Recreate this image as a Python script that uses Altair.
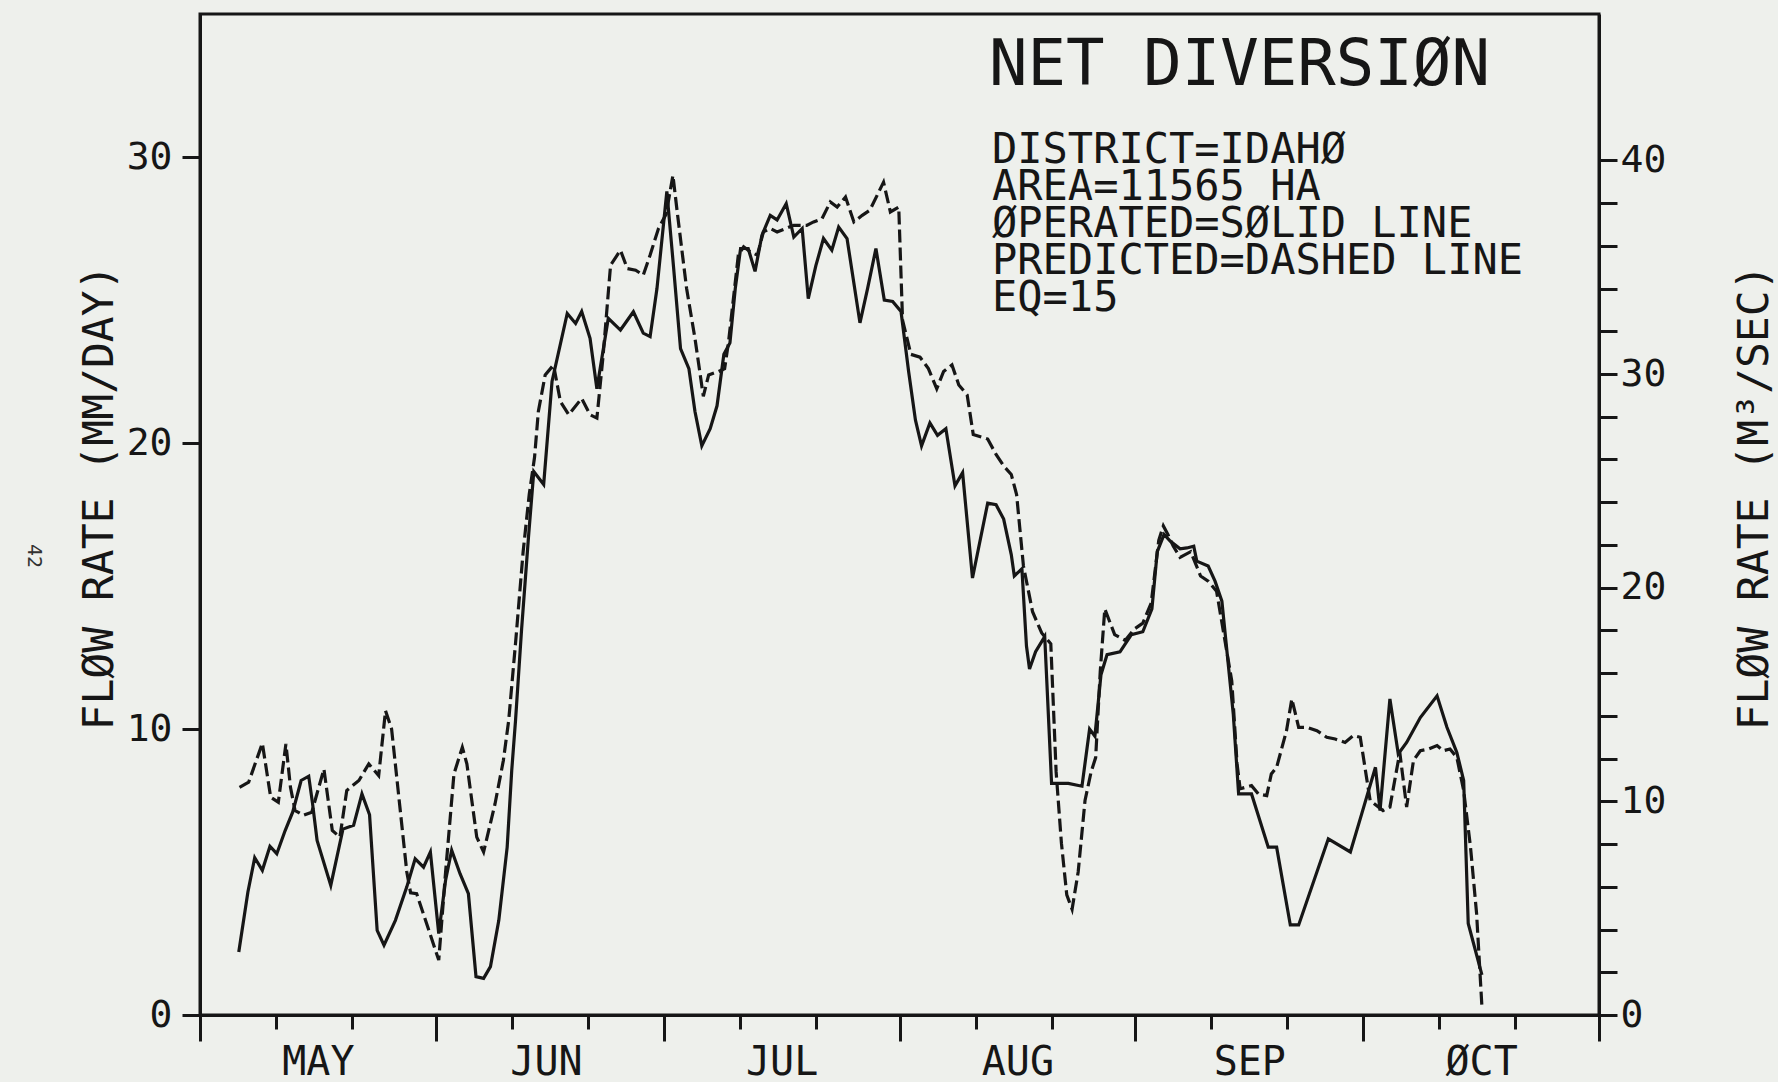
import altair as alt
import pandas as pd

# ---- data: days after 30 April (0 = 1 May), flow rate in mm/day ----
op_day = [5.1, 6.3, 7.2, 8.2, 9.2, 10.1, 11.2, 12.2, 13.3, 14.3, 14.8, 15.4, 17.2, 18.8, 20.2, 21.3, 22.3,
          23.3, 24.2, 25.7, 27.2, 28.3, 29.4, 30.3, 31.4, 32.3, 33.1, 34.2, 35.3, 36.3, 37.3, 38.2, 39.3,
          40.4, 41.0, 41.5, 42.3, 43.2, 43.9, 45.2, 46.3, 48.3, 49.4, 50.2, 51.3, 52.2, 53.7, 55.3, 57.0,
          58.3, 59.2, 60.1, 61.4, 62.3, 63.2, 64.3, 65.1, 66.0, 67.1, 68.0, 68.9, 69.7, 70.4, 71.1, 72.1,
          73.0, 73.9, 75.0, 75.9, 77.1, 78.1, 79.2, 80.0, 81.0, 82.0, 83.1, 84.0, 85.1, 86.8, 87.8, 88.9,
          90.0, 91.1, 92.2, 93.2, 94.1, 94.9, 96.0, 97.0, 98.1, 99.3, 100.3, 101.6, 103.6, 104.7,
          105.7, 106.7, 107.1, 108.1, 108.7, 109.1, 109.9, 111.1, 112.0, 114.2, 116.0, 117.0, 117.7, 118.5,
          119.3, 121.0, 122.5, 124.0, 125.2, 125.9, 126.8, 127.6, 128.9, 129.8, 130.7, 131.1, 132.6, 133.5,
          134.4, 135.9, 136.6, 138.3, 140.5, 141.6, 143.4, 144.5, 148.4, 151.3, 152.8, 154.6, 155.2, 156.5,
          157.6, 158.7, 160.5, 162.7, 164.0, 165.3, 166.2, 166.8, 168.6]
op_val = [2.2, 4.3, 5.5, 5.06, 5.9, 5.64, 6.45, 7.1, 8.2, 8.35, 7.4, 6.1, 4.53, 6.5, 6.63, 7.73, 7.0,
          2.96, 2.44, 3.31, 4.48, 5.46, 5.17, 5.7, 2.85, 4.71, 5.76, 4.94, 4.24, 1.34, 1.28, 1.69, 3.31,
          5.87, 8.55, 10.3, 13.5, 16.7, 19.0, 18.55, 22.15, 24.53, 24.18, 24.6, 23.66, 21.9, 24.36, 23.95, 24.59,
          23.84, 23.72, 25.4, 28.8, 26.1, 23.3, 22.6, 21.1, 19.9, 20.5, 21.3, 23.1, 23.5, 25.4, 26.8, 26.8,
          26.0, 27.26, 27.96, 27.8, 28.37, 27.2, 27.5, 25.05, 26.2, 27.15, 26.74, 27.55, 27.15, 24.2, 25.4, 26.8,
          25.0, 24.95, 24.6, 22.5, 20.8, 19.9, 20.7, 20.27, 20.5, 18.5, 18.96, 15.28, 17.9, 17.84,
          17.34, 16.1, 15.35, 15.6, 12.9, 12.1, 12.7, 13.23, 8.1, 8.1, 8.0, 10.0, 9.75, 11.9,
          12.6, 12.7, 13.3, 13.4, 14.2, 16.2, 16.8, 16.57, 16.3, 16.33, 16.39, 15.87, 15.7, 15.17,
          14.47, 10.52, 7.73, 7.73, 5.87, 5.87, 3.15, 3.15, 6.16, 5.7, 7.04, 8.66, 7.15, 11.05,
          9.13, 9.53, 10.4, 11.16, 10.06, 9.18, 8.2, 3.2, 1.4]

pr_day = [5.2, 6.4, 8.2, 9.3, 10.3, 11.3, 11.9, 12.5, 13.6, 14.7, 16.3, 17.4, 18.4, 19.3, 20.9, 22.2, 23.5,
          24.4, 25.2, 27.2, 27.7, 28.5, 31.4, 32.3, 33.4, 34.5, 35.1, 36.4, 37.3, 38.8, 39.9, 40.6, 41.5,
          42.5, 43.3, 44.0, 44.5, 45.4, 46.5, 47.4, 48.5, 50.2, 51.3, 52.2, 53.0, 54.0, 55.3, 56.2, 57.3,
          58.3, 59.2, 60.3, 61.3, 62.2, 62.8, 64.0, 65.1, 66.2, 66.9, 68.2, 69.0, 69.5, 70.8, 71.5, 72.4,
          73.3, 74.1, 75.0, 75.9, 78.1, 79.8, 80.7, 81.8, 82.9, 83.8, 84.9, 86.0, 87.1, 88.1, 89.9, 90.8,
          91.9, 92.4, 93.5, 94.7, 95.8, 96.9, 97.8, 98.9, 99.8, 100.9, 101.7, 103.6, 104.7, 105.7,
          106.7, 107.4, 108.3, 109.5, 110.7, 111.9, 112.6, 113.3, 114.0, 114.7, 115.5, 116.4, 117.2, 117.8,
          118.4, 119.0, 120.3, 121.7, 122.9, 124.0, 125.1, 126.1, 126.7, 127.3, 128.0, 128.9, 130.3, 131.6,
          132.6, 133.7, 135.7, 136.4, 136.8, 138.3, 139.2, 140.3, 140.9, 141.6, 142.9, 143.6, 144.5, 145.6,
          146.9, 148.2, 149.3, 150.6, 151.7, 152.6, 153.9, 155.6, 156.5, 157.8, 158.7, 159.6, 160.5, 161.6,
          162.7, 163.5, 164.4, 165.3, 166.2, 167.1, 167.9, 168.6]
pr_val = [7.96, 8.14, 9.5, 7.61, 7.44, 9.48, 7.96, 7.15, 6.98, 7.09, 8.6, 6.45, 6.22, 7.85, 8.2, 8.78, 8.37,
          10.64, 10.0, 5.0, 4.27, 4.24, 1.92, 5.0, 8.43, 9.36, 8.78, 6.22, 5.7, 7.38, 8.9, 10.3, 13.0,
          16.2, 18.2, 19.5, 21.1, 22.38, 22.73, 21.45, 20.99, 21.56, 20.99, 20.87, 23.0, 26.22, 26.74, 26.1, 26.04,
          25.87, 26.57, 27.5, 28.0, 29.36, 28.0, 25.4, 23.66, 21.63, 22.38, 22.5, 22.6, 23.5, 26.57, 26.86, 26.68,
          26.57, 27.38, 27.5, 27.38, 27.61, 27.61, 27.73, 27.84, 28.43, 28.25, 28.6, 27.73, 27.96, 28.14, 29.12, 28.08,
          28.25, 24.3, 23.1, 23.0, 22.6, 21.9, 22.5, 22.73, 22.03, 21.68, 20.3, 20.14, 19.6, 19.2,
          18.9, 18.2, 15.7, 14.1, 13.36, 12.98, 8.5, 6.0, 4.2, 3.7, 5.0, 7.5, 8.5, 9.0,
          12.0, 14.2, 13.3, 13.1, 13.5, 13.7, 14.4, 16.6, 17.1, 16.8, 16.4, 16.0, 16.2, 15.35,
          15.17, 14.82, 11.68, 8.78, 7.91, 8.02, 7.73, 7.67, 8.43, 8.66, 9.94, 11.05, 10.06, 10.06,
          9.94, 9.71, 9.65, 9.53, 9.77, 9.71, 7.5, 7.15, 7.27, 9.18, 7.27, 8.9, 9.24, 9.3,
          9.42, 9.24, 9.3, 9.01, 7.85, 5.87, 3.55, 0.3]

month_starts = [0, 31, 61, 92, 123, 153, 184]
ten_day_ticks = [10, 20, 41, 51, 71, 81, 102, 112, 133, 143, 163, 173]
month_mids = [15.5, 45.5, 76.5, 107.5, 138, 168.5]
month_names = ["MAY", "JUN", "JUL", "AUG", "SEP", "ØCT"]
left_ticks = [0, 10, 20, 30]
right_ticks = list(range(0, 41, 2))

title_text = "NET DIVERSIØN"
info_lines = ["DISTRICT=IDAHØ", "AREA=11565 HA", "ØPERATED=SØLID LINE",
              "PREDICTED=DASHED LINE", "EQ=15"]
page_number = "42"

M3_PER_MM = 11565 * 1e4 / 1000 / 86400  # mm/day over 11565 ha -> m3/s
Y_MAX = 35

FONT = "DejaVu Sans Mono"
INK = "#161616"
BG = "#eef0ec"
W, H = 1399, 1001

op = pd.DataFrame({"day": op_day, "v": op_val})
pr = pd.DataFrame({"day": pr_day, "v": pr_val})

long_test = "indexof([" + ",".join(str(d) for d in month_starts) + "], datum.value) >= 0"
mid_test = "indexof([" + ",".join(str(d) for d in month_mids) + "], datum.value) >= 0"
label_expr = "".join(f"datum.value == {m} ? '{n}' : " for m, n in zip(month_mids, month_names)) + "''"

x_enc = alt.X(
    "day:Q",
    scale=alt.Scale(domain=[0, 184], nice=False, zero=False),
    axis=alt.Axis(
        values=sorted(month_starts + ten_day_ticks + month_mids),
        title=None,
        grid=False,
        domainColor=INK, domainWidth=3,
        tickColor=INK, tickWidth=3,
        tickSize={"condition": {"test": long_test, "value": 26}, "value": 14},
        tickOpacity={"condition": {"test": mid_test, "value": 0}, "value": 1},
        labelExpr=label_expr,
        labelOverlap=False, labelFlush=False, labelBound=False,
        labelFont=FONT, labelFontSize=40, labelColor=INK, labelPadding=13,
        labelBaseline="top",
    ),
)

y_left = alt.Y(
    "v:Q",
    scale=alt.Scale(domain=[0, Y_MAX], nice=False, zero=True),
    axis=alt.Axis(
        values=left_ticks, grid=False,
        domainColor=INK, domainWidth=3, tickColor=INK, tickWidth=3, tickSize=18,
        labelFont=FONT, labelFontSize=38, labelColor=INK, labelPadding=10,
        title="FLØW RATE (MM/DAY)", titleFont=FONT, titleFontSize=43, titleFontWeight="normal",
        titleColor=INK, titleAngle=270, titleX=-88, titleY=483,
        titleAlign="center", titleBaseline="alphabetic",
    ),
)

solid = alt.Chart(op).mark_line(color=INK, strokeWidth=3.2).encode(x=x_enc, y=y_left)
dashed = alt.Chart(pr).mark_line(color=INK, strokeWidth=3.2, strokeDash=[13, 5]).encode(x=x_enc, y=y_left)
left_layer = alt.layer(solid, dashed)

right = alt.Chart(op).transform_calculate(m3=f"datum.v * {M3_PER_MM}").mark_line(opacity=0).encode(
    x=x_enc,
    y=alt.Y(
        "m3:Q",
        scale=alt.Scale(domain=[0, Y_MAX * M3_PER_MM], nice=False, zero=True),
        axis=alt.Axis(
            orient="right", values=right_ticks, grid=False,
            domainColor=INK, domainWidth=3, tickColor=INK, tickWidth=3, tickSize=18,
            labelExpr="datum.value % 10 == 0 ? datum.label : ''",
            labelFont=FONT, labelFontSize=38, labelColor=INK, labelPadding=3,
            labelOverlap=False,
            title="FLØW RATE (M³/SEC)", titleFont=FONT, titleFontSize=43, titleFontWeight="normal",
            titleColor=INK, titleAngle=270, titleX=168, titleY=483,
            titleAlign="center", titleBaseline="alphabetic",
        ),
    ),
)

title_df = pd.DataFrame({"t": [title_text]})
title_layer = alt.Chart(title_df).mark_text(
    font=FONT, fontSize=64, color=INK, align="left", baseline="alphabetic"
).encode(text="t:N", x=alt.value(789), y=alt.value(71))

info_df = pd.DataFrame({"t": ["\n".join(info_lines)]})
info_layer = alt.Chart(info_df).mark_text(
    font=FONT, fontSize=42, color=INK, align="left", baseline="alphabetic",
    lineBreak="\n", lineHeight=37
).encode(text="t:N", x=alt.value(792), y=alt.value(149))

page_df = pd.DataFrame({"t": [page_number]})
page_layer = alt.Chart(page_df).mark_text(
    font=FONT, fontSize=20, color="#333333", align="center", baseline="middle", angle=90
).encode(text="t:N", x=alt.value(-166), y=alt.value(542))

chart = alt.layer(left_layer, right, title_layer, info_layer, page_layer).resolve_scale(
    y="independent"
).properties(
    width=W, height=H,
    background=BG,
    padding={"left": 200, "top": 14, "right": 179, "bottom": 67},
    autosize=alt.AutoSizeParams(type="none"),
).configure_view(stroke=INK, strokeWidth=3)

chart.save("out.html", embed_options={"renderer": "svg", "actions": False})
